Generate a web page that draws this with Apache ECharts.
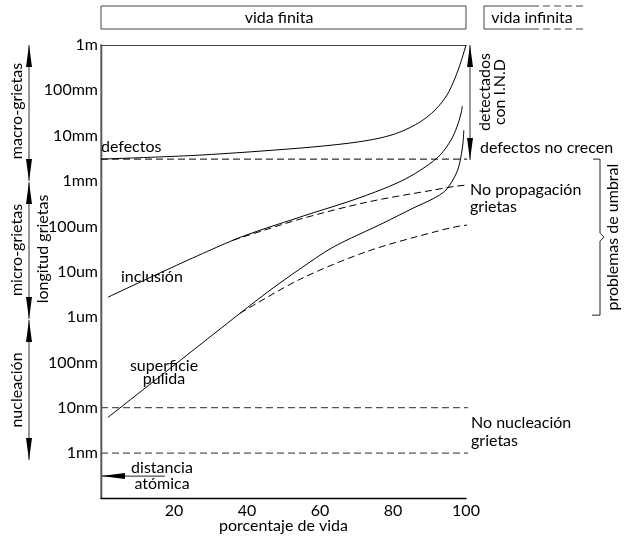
<!DOCTYPE html>
<html>
<head>
<meta charset="utf-8">
<script src="https://cdn.jsdelivr.net/npm/echarts@6/dist/echarts.min.js"></script>
<style>
  html, body { margin: 0; padding: 0; background: #fff; }
  #chart { width: 627px; height: 537px; }
</style>
</head>
<body>
<div id="chart"></div>
<script>
const FONT = 'Lato, "Noto Sans", sans-serif';

// Crack length (nm) against percentage of fatigue life
const yTickLabels = ['1nm', '10nm', '100nm', '1um', '10um', '100um', '1mm', '10mm', '100mm', '1m'];
const xTickLabels = [20, 40, 60, 80, 100];

// large initial defects
const defectosLife = [0, 27.1, 54.5, 68.2, 76.4, 81.9, 87.4, 91.5, 94.8, 97.0, 98.6, 100];
const defectosLen  = [3.04e6, 3.73e6, 5.32e6, 6.87e6, 8.85e6, 1.2e7, 2.0e7, 3.67e7, 7.87e7, 1.87e8, 4.22e8, 1.0e9];

// cracks starting at an inclusion
const inclusionLife = [1.9, 36.2, 54.5, 68.2, 77.3, 83.3, 88.8, 92.9, 95.9, 97.5, 98.6, 99.0];
const inclusionLen  = [2.74e3, 4.95e4, 1.6e5, 3.6e5, 6.7e5, 1.1e6, 2.03e6, 3.73e6, 8.0e6, 1.55e7, 3.0e7, 4.5e7];
const inclusionStopLife = [36.2, 54.5, 72.9, 91.0, 100, 132.6];
const inclusionStopLen  = [4.95e4, 1.44e5, 3.42e5, 6.3e5, 8.1e5, 9.5e5];

// cracks starting at a polished surface
const pulidaLife = [1.9, 38.1, 46.3, 54.5, 63.6, 77.3, 85.5, 91.0, 94.2, 96.4, 97.8, 98.6, 99.2, 99.4];
const pulidaLen  = [6.1, 1.21e3, 3.9e3, 1.15e4, 3.48e4, 1.18e5, 2.52e5, 4.08e5, 5.98e5, 1.05e6, 1.83e6, 3.37e6, 7.2e6, 1.33e7];
const pulidaStopLife = [38.1, 54.5, 72.9, 91.0, 100, 132.6];
const pulidaStopLen  = [1.21e3, 6.8e3, 2.8e4, 7.4e4, 1.06e5, 1.52e5];

// horizontal limits
const noCrecenLife = [0, 135];
const noCrecenLen = 3.04e6;
const nucleacionLife = [0, 132.6];
const nucleacionLens = [10, 1];

const zip = (xs, ys) => xs.map((x, i) => [x, Array.isArray(ys) ? ys[i] : ys]);

const chart = echarts.init(document.getElementById('chart'), null, { renderer: 'canvas' });

function curve(name, data, opts) {
  return Object.assign({
    name: name,
    type: 'line',
    data: data,
    symbol: 'none',
    showSymbol: false,
    smooth: 0.3,
    clip: false,
    silent: true,
    animation: false,
    lineStyle: { color: '#000', width: 1 }
  }, opts || {});
}

const labelOf = v => {
  const e = Math.log10(v);
  const r = Math.round(e);
  if (Math.abs(e - r) > 1e-6 || r < 0 || r >= yTickLabels.length) return '';
  return yTickLabels[r];
};

chart.setOption({
  animation: false,
  backgroundColor: '#fff',
  textStyle: { fontFamily: FONT },
  grid: { left: 101, top: 45, width: 365, height: 453, containLabel: false, outerBoundsMode: 'none' },
  xAxis: [{
    type: 'value', min: 0, max: 100, interval: 20,
    axisLine: { lineStyle: { color: '#000', width: 1.4 } },
    axisTick: { show: false },
    splitLine: { show: false },
    axisLabel: {
      color: '#000', fontSize: 16, fontFamily: FONT, margin: 5,
      formatter: v => xTickLabels.includes(v) ? String(v) : ''
    },
    name: 'porcentaje de vida', nameLocation: 'middle', nameGap: 20, nameMoveOverlap: false,
    nameTextStyle: { color: '#000', fontSize: 16, fontFamily: FONT }
  }, {
    type: 'value', min: 0, max: 100, position: 'top',
    axisLine: { lineStyle: { color: '#444', width: 1.2 } },
    axisTick: { show: false }, axisLabel: { show: false }, splitLine: { show: false }
  }],
  yAxis: [{
    type: 'log', logBase: 10, min: 0.102, max: 1e9, splitNumber: 10,
    axisLine: { lineStyle: { color: '#000', width: 1.4 } },
    axisTick: { show: false },
    splitLine: { show: false },
    minorTick: { show: false },
    axisLabel: { color: '#000', fontSize: 16, fontFamily: FONT, margin: 3, formatter: labelOf }
  }, {
    type: 'value', min: 0, max: 1, position: 'right',
    axisLine: { lineStyle: { color: '#777', width: 1.5 } },
    axisTick: { show: false }, axisLabel: { show: false }, splitLine: { show: false }
  }],
  series: [
    curve('defectos', zip(defectosLife, defectosLen)),
    curve('inclusión', zip(inclusionLife, inclusionLen)),
    curve('inclusión umbral', zip(inclusionStopLife, inclusionStopLen), { lineStyle: { color: '#000', width: 1, type: [7, 4] } }),
    curve('superficie pulida', zip(pulidaLife, pulidaLen)),
    curve('superficie umbral', zip(pulidaStopLife, pulidaStopLen), { lineStyle: { color: '#000', width: 1, type: [7, 4] } }),
    curve('defectos no crecen', zip(noCrecenLife, noCrecenLen), { smooth: false, lineStyle: { color: '#000', width: 1, type: [7, 4] } }),
    curve('no nucleación 10nm', zip(nucleacionLife, nucleacionLens[0]), { smooth: false, lineStyle: { color: '#555', width: 1.2, type: [7, 4] } }),
    curve('no nucleación 1nm', zip(nucleacionLife, nucleacionLens[1]), { smooth: false, lineStyle: { color: '#555', width: 1.2, type: [7, 4] } })
  ]
});

// ---- annotations ----
const px = (x, y) => chart.convertToPixel({ xAxisIndex: 0, yAxisIndex: 0 }, [x, y]);
const X = x => px(x, 1)[0];
const Y = y => px(0, y)[1];

const txt = (s, x, y, o) => ({
  type: 'text', x: x, y: y, rotation: (o && o.rot) || 0, silent: true,
  style: Object.assign({
    text: s, fill: '#000', font: '16px ' + FONT,
    align: 'left', verticalAlign: 'middle', lineHeight: 15
  }, (o && o.style) || {})
});
const vtxt = (s, x, y, o) => txt(s, x, y, { rot: Math.PI / 2, style: Object.assign({ align: 'center' }, o || {}) });
const line = (x1, y1, x2, y2, o) => ({
  type: 'line', silent: true, shape: { x1, y1, x2, y2 },
  style: Object.assign({ stroke: '#222', lineWidth: 1 }, o || {})
});
const head = (tx, ty, dir, len, hw) => {
  len = len || 22; hw = hw || 3;
  let pts;
  if (dir === 'up') pts = [[tx, ty], [tx - hw, ty + len], [tx + hw, ty + len]];
  else if (dir === 'down') pts = [[tx, ty], [tx - hw, ty - len], [tx + hw, ty - len]];
  else pts = [[tx, ty], [tx + len, ty - hw], [tx + len, ty + hw]];
  return { type: 'polygon', silent: true, shape: { points: pts }, style: { fill: '#000' } };
};
const vArrow = (x, y1, y2) => [line(x, y1, x, y2, { stroke: '#333' }), head(x, y1, 'up'), head(x, y2, 'down')];

const left = X(0), right = X(100);
const yTop = Y(1e9);
const els = [];

// life regime boxes
els.push({ type: 'rect', silent: true, shape: { x: left, y: 6, width: right - left, height: 23 },
  style: { fill: 'none', stroke: '#444', lineWidth: 1 } });
els.push(txt('vida finita', 279, 17.5, { style: { align: 'center' } }));
els.push({ type: 'polyline', silent: true, shape: { points: [[532, 6], [484, 6], [484, 29], [532, 29]] },
  style: { fill: 'none', stroke: '#444', lineWidth: 1 } });
els.push(line(532, 6, 587, 6, { stroke: '#444', lineDash: [7, 4] }));
els.push(line(532, 29, 587, 29, { stroke: '#444', lineDash: [7, 4] }));
els.push(txt('vida infinita', 532, 17.5, { style: { align: 'center' } }));

// size ranges at the left
const xl = 29;
els.push(...vArrow(xl, yTop, Y(1e6)));
els.push(...vArrow(xl, Y(1e6) + 1, Y(1e3) + 2));
els.push(...vArrow(xl, Y(1e3) + 3, Y(0.7)));
els.push(vtxt('macro-grietas', 17, 111));
els.push(vtxt('micro-grietas', 17, 250));
els.push(vtxt('nucleación', 17, 390));
els.push(vtxt('longitud grietas', 43, 249));

// non destructive inspection range
const xr = right + 4;
els.push(...vArrow(xr, yTop, Y(noCrecenLen) + 1));
els.push(vtxt('detectados\ncon I.N.D', 492, 92, { lineHeight: 15 }));

// threshold bracket
const yb1 = Y(noCrecenLen), yb2 = Y(1.1e3), yMid = (yb1 + yb2) / 2, xb = 600;
els.push({ type: 'polyline', silent: true,
  shape: { points: [[593, yb1], [xb, yb1], [xb, yMid - 4], [xb + 4, yMid], [xb, yMid + 4], [xb, yb2], [592, yb2]] },
  style: { fill: 'none', stroke: '#222', lineWidth: 1 } });
els.push(vtxt('problemas de umbral', 613, yMid));

// atomic spacing
const yAt = Y(0.31);
els.push(line(left, yAt, X(17.5), yAt, { stroke: '#222' }));
els.push(head(left, yAt, 'left', 24, 3));
els.push(txt('distancia\natómica', 162, 476, { style: { align: 'center', lineHeight: 16 } }));

// curve and limit labels
els.push(txt('defectos', left, 147));
els.push(txt('inclusión', 121, 277));
els.push(txt('superficie\npulida', 164, 372.5, { style: { align: 'center', lineHeight: 13 } }));
els.push(txt('defectos no crecen', 480, 148));
els.push(txt('No propagación\ngrietas', 470, 198, { style: { lineHeight: 17 } }));
els.push(txt('No nucleación\ngrietas', 471, 432, { style: { lineHeight: 18 } }));

chart.setOption({ graphic: { elements: els } });
</script>
</body>
</html>
